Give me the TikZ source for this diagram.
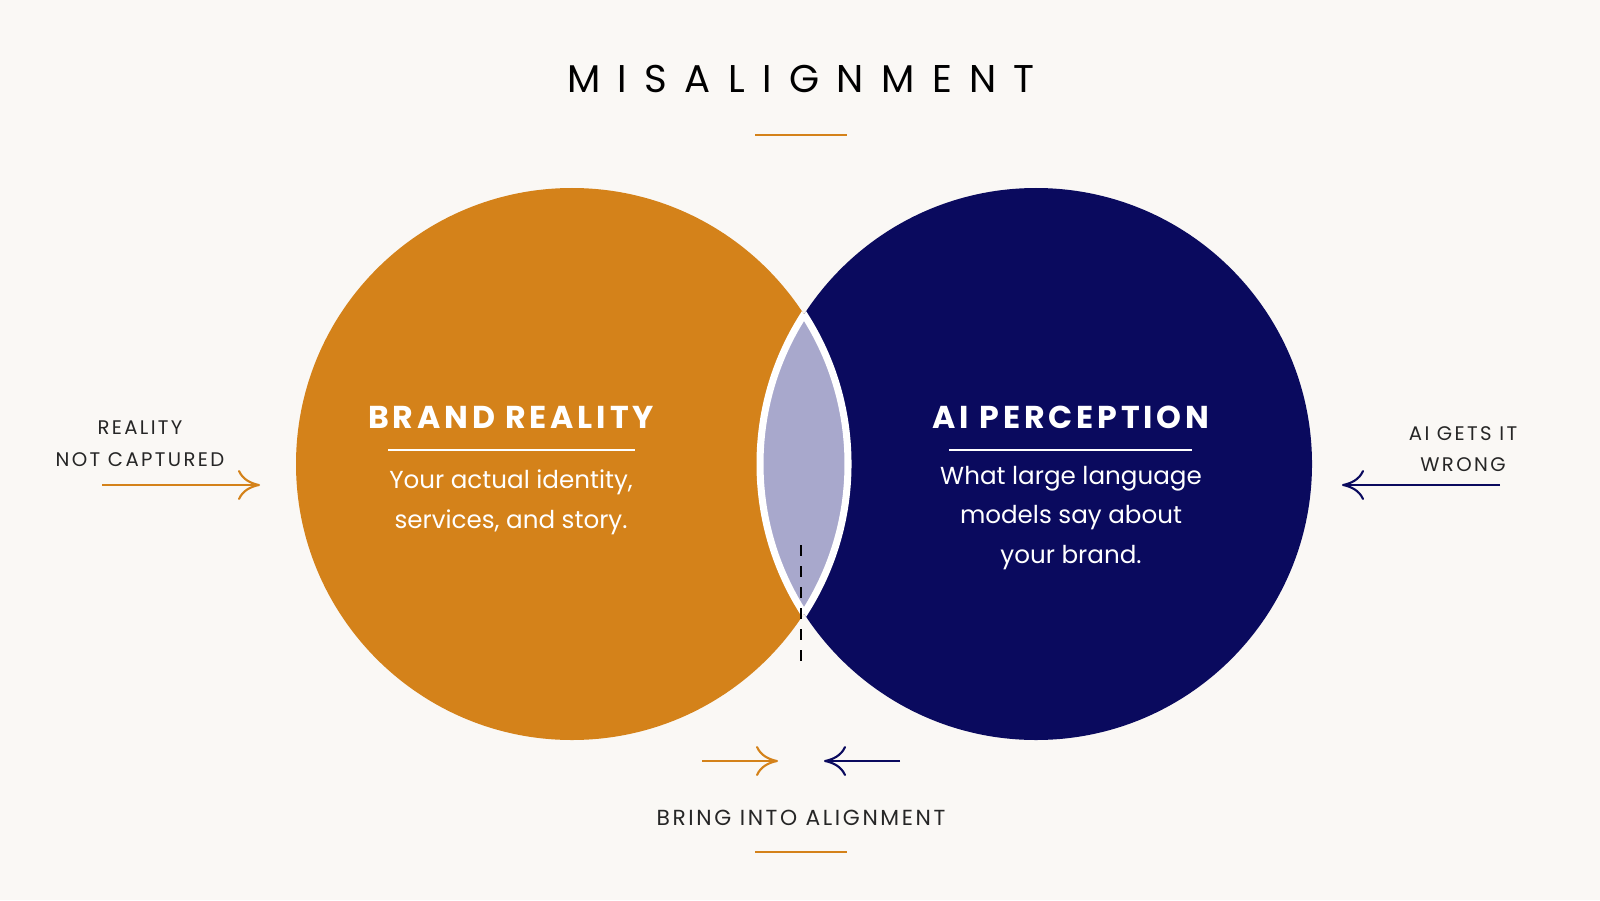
\documentclass[tikz,border=0pt]{standalone}
\usepackage{fontspec}
\setmainfont{Poppins}
\newfontfamily\spaced[LetterSpace=45]{Poppins}
\newfontfamily\wide[LetterSpace=12]{Poppins}
\usetikzlibrary{arrows.meta, positioning}
\definecolor{brandorange}{RGB}{212,130,26}
\definecolor{ainavy}{RGB}{10,10,94}
\definecolor{lensgray}{RGB}{168,168,204}
\definecolor{paper}{RGB}{250,248,245}
\tikzset{
  bigcircle/.style={circle, minimum size=5.52cm, inner sep=0pt},
  heading/.style={text=white, font=\wide\fontsize{9}{11}\selectfont\bfseries},
  bodytext/.style={text=white, align=center, font=\fontsize{7}{11.3}\selectfont},
  sidelabel/.style={align=center, font=\wide\fontsize{5.6}{9}\selectfont, text=black!85},
  pointer/.style={-{To[length=2.2mm,width=3mm]}, line width=0.6pt}
}
\begin{document}
\begin{tikzpicture}
\fill[paper] (0,0) rectangle (16,9);
\useasboundingbox (0,0) rectangle (16,9);

\node (title) at (8.01,8.21) {\spaced\fontsize{11}{13}\selectfont MISALIGNMENT};
\draw[brandorange, line width=0.7pt] (7.55,7.65) -- (8.47,7.65);

\node (reality) [bigcircle, fill=brandorange] at (5.72,4.36) {};
\node (perception) [bigcircle, fill=ainavy] at (10.36,4.36) {};
% overlap
\begin{scope}
  \clip (5.72,4.36) circle (2.76);
  \fill[lensgray] (10.36,4.36) circle (2.76);
\end{scope}
\begin{scope}
  \clip (5.72,4.36) circle (2.76);
  \draw[white, line width=2pt] (10.36,4.36) circle (2.76);
\end{scope}
\begin{scope}
  \clip (10.36,4.36) circle (2.76);
  \draw[white, line width=2pt] (5.72,4.36) circle (2.76);
\end{scope}

\node (brandhead) [heading] at (5.11,4.83) {BRAND REALITY};
\draw[white, line width=0.6pt] (3.88,4.50) -- (6.35,4.50);
\node (brandbody) [bodytext] at (5.11,3.98) {Your actual identity,\\services, and story.};

\node (aihead) [heading] at (10.71,4.83) {AI PERCEPTION};
\draw[white, line width=0.6pt] (9.49,4.50) -- (11.92,4.50);
\node (aibody) [bodytext] at (10.71,3.82) {What large language\\models say about\\your brand.};

\node (leftlabel) [sidelabel] at (1.40,4.56) {REALITY\\NOT CAPTURED};
\coordinate (lstart) at (1.02,4.15);
\coordinate (lend) at (2.60,4.15);
\draw[pointer, brandorange] (lstart) -- (lend);

\node (rightlabel) [sidelabel] at (14.63,4.51) {AI GETS IT\\WRONG};
\coordinate (rstart) at (15.00,4.15);
\coordinate (rend) at (13.42,4.15);
\draw[pointer, ainavy] (rstart) -- (rend);

\coordinate (dtop) at (8.01,3.55);
\coordinate (dbot) at (8.01,2.33);
\draw[black, dashed, line width=0.6pt] (dtop) -- (dbot);

\coordinate (ostart) at (7.02,1.39);
\coordinate (oend) at (7.78,1.39);
\draw[pointer, brandorange] (ostart) -- (oend);
\coordinate (nstart) at (9.00,1.39);
\coordinate (nend) at (8.24,1.39);
\draw[pointer, ainavy] (nstart) -- (nend);

\node (bring) [sidelabel, font=\wide\fontsize{6.2}{8}\selectfont] at (8.01,0.82) {BRING INTO ALIGNMENT};
\draw[brandorange, line width=0.7pt] (7.55,0.48) -- (8.47,0.48);
\end{tikzpicture}
\end{document}
